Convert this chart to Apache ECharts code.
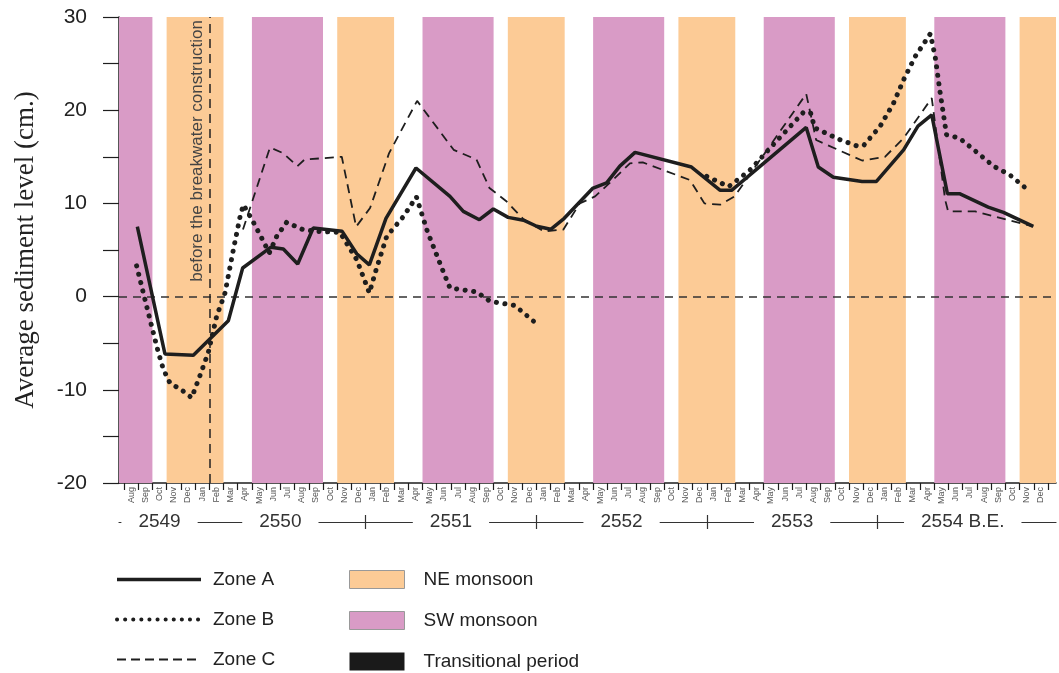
<!DOCTYPE html>
<html><head><meta charset="utf-8">
<script src="https://cdn.jsdelivr.net/npm/echarts@6/dist/echarts.min.js"></script>
<style>html,body{margin:0;padding:0;background:#fff}#c{width:1059px;height:673px}</style>
</head><body><div id="c"></div>
<script>
// Month categories (Aug 2549 .. Dec 2554)
const months = ['Aug','Sep','Oct','Nov','Dec',
  'Jan','Feb','Mar','Apr','May','Jun','Jul','Aug','Sep','Oct','Nov','Dec',
  'Jan','Feb','Mar','Apr','May','Jun','Jul','Aug','Sep','Oct','Nov','Dec',
  'Jan','Feb','Mar','Apr','May','Jun','Jul','Aug','Sep','Oct','Nov','Dec',
  'Jan','Feb','Mar','Apr','May','Jun','Jul','Aug','Sep','Oct','Nov','Dec',
  'Jan','Feb','Mar','Apr','May','Jun','Jul','Aug','Sep','Oct','Nov','Dec'];
const yearLabels = ['2549','2550','2551','2552','2553','2554 B.E.'];
const neMonths = ['Nov','Dec','Jan','Feb'];
const swMonths = ['May','Jun','Jul','Aug','Sep'];
const breakwaterMonth = 6; // start of Feb 2550 (month index)
const breakwaterText = 'before the breakwater construction';

// Survey positions in months since start of Aug 2549, and levels (cm)
const zoneAx = [0.94,2.88,4.88,7.34,8.35,10.34,11.21,12.22,13.31,15.35,16.37,17.26,18.43,20.54,22.93,23.87,25.0,25.98,27.02,28.1,29.03,30.02,30.97,32.96,33.95,34.88,35.95,39.92,41.94,42.74,47.99,48.84,49.9,51.92,52.93,54.84,55.85,56.82,57.92,58.77,60.79,61.86,63.96];
const zoneAy = [7.5,-6.15,-6.3,-2.6,3.07,5.3,5.1,3.5,7.36,7.0,4.6,3.4,8.4,13.8,10.75,9.14,8.25,9.4,8.5,8.2,7.55,7.22,8.4,11.6,12.2,14.0,15.47,13.9,11.4,11.4,18.15,13.9,12.8,12.36,12.36,15.75,18.3,19.5,11.04,11.04,9.6,9.04,7.54];

const zoneBx = [0.89,1.36,1.95,2.42,2.77,3.23,4.17,4.76,5.34,5.93,6.52,7.11,7.69,8.17,8.4,9.07,9.68,10.22,10.74,11.44,12.6,13.56,15.19,16.37,17.26,17.74,18.48,19.66,20.57,21.34,22.48,22.93,24.8,25.75,27.5,28.93,
  34.0,
  40.99,42.54,44.05,45.67,47.78,48.29,48.59,50.41,51.51,52.02,53.18,54.13,54.84,55.65,56.72,57.06,57.4,57.86,58.77,59.78,61.19,62.3,63.71];
const zoneBy = [3.3,0.4,-3.2,-6.0,-7.8,-9.25,-10.15,-10.86,-8.5,-6.0,-2.1,0.4,5.0,8.6,9.86,8.07,6.3,4.68,6.46,7.97,7.18,7.0,6.9,3.97,0.4,2.9,6.46,8.6,10.7,7.0,2.6,0.93,0.5,-0.5,-0.96,-2.8,
  null,
  12.9,11.8,13.6,16.3,19.75,19.75,18.1,16.8,16.2,16.2,18.25,20.75,23.26,25.75,28.2,25.75,22.0,17.36,17.0,15.75,13.97,13.07,11.29];

const zoneCx = [8.37,10.27,11.19,12.2,12.7,15.32,16.33,17.31,18.65,20.62,23.19,24.8,25.71,26.92,28.1,29.54,30.91,32.06,33.14,34.17,35.59,36.49,39.82,40.83,41.94,42.95,47.99,48.69,51.92,53.53,54.84,56.82,57.76,57.97,59.88,62.1,63.96];
const zoneCy = [7.2,16.0,15.4,14.0,14.7,15.0,7.5,9.5,15.4,21.0,15.75,14.7,11.65,10.2,8.3,7.0,7.2,10.0,10.75,12.2,14.3,14.4,12.5,10.0,9.86,10.75,21.75,16.8,14.6,15.0,17.0,21.3,10.4,9.14,9.14,8.25,7.54];

const X_MIN = -0.35, X_MAX = 65.56;
const zip = (xs, ys) => xs.map((x, i) => [x, ys[i]]);

function season(m) { return neMonths.includes(m) ? 'NE' : (swMonths.includes(m) ? 'SW' : 'T'); }
const bands = { NE: [], SW: [] };
for (let i = 0; i < months.length;) {
  const s = season(months[i]); let j = i;
  while (j < months.length && season(months[j]) === s) j++;
  if (s !== 'T') bands[s].push([{ xAxis: i === 0 ? X_MIN : i }, { xAxis: j === months.length ? X_MAX : j }]);
  i = j;
}
const monthBounds = months.map((m, i) => i).concat([months.length]);
const monthCenters = months.map((m, i) => i + 0.5);
const yearBounds = months.map((m, i) => (m === 'Jan' ? i : -1)).filter(i => i >= 0);
const yearEdges = [0].concat(yearBounds, [months.length]);
const yearCenters = yearLabels.map((l, k) => (yearEdges[k] + yearEdges[k + 1]) / 2);

const ink = '#1e1e1e';
const FONT = 'Liberation Sans';
const lineA = { color: ink, width: 3.5 };
const lineB = { color: ink, width: 5, type: [0.1, 8.5], cap: 'round' };
const lineC = { color: ink, width: 1.8, type: [9, 6] };
const chart = echarts.init(document.getElementById('c'));
chart.setOption({
  animation: false,
  backgroundColor: '#fff',
  grid: { left: 119, right: 3, top: 17, bottom: 190, containLabel: false, outerBoundsMode: 'none' },
  xAxis: [
    { type: 'value', position: 'bottom', min: X_MIN, max: X_MAX, splitLine: { show: false },
      axisLine: { onZero: false, lineStyle: { color: ink, width: 1.5 } },
      axisTick: { customValues: monthBounds, length: 7, lineStyle: { color: ink, width: 1.2 } },
      axisLabel: { customValues: monthCenters, rotate: 90, fontSize: 9, color: '#555', margin: 4, fontFamily: FONT,
        formatter: v => months[Math.floor(v)] } },
    { type: 'value', position: 'bottom', min: X_MIN, max: X_MAX, offset: 39, splitLine: { show: false },
      axisLine: { onZero: false, lineStyle: { color: '#333', width: 1.2 } },
      axisTick: { customValues: yearBounds, length: 7, lineStyle: { color: '#333', width: 1.2 } },
      axisLabel: { customValues: yearCenters, fontSize: 19, color: '#333', fontFamily: FONT, margin: 0,
        verticalAlign: 'middle', backgroundColor: '#fff', padding: [2, 17],
        formatter: v => { let k = 0, d = 1e9; yearCenters.forEach((c, i) => { if (Math.abs(c - v) < d) { d = Math.abs(c - v); k = i; } }); return yearLabels[k]; } } },
    { type: 'value', position: 'bottom', min: X_MIN, max: X_MAX, offset: 39, splitLine: { show: false },
      axisLine: { show: false, onZero: false },
      axisTick: { inside: true, customValues: yearBounds, length: 7, lineStyle: { color: '#333', width: 1.2 } },
      axisLabel: { show: false } }
  ],
  yAxis: { type: 'value', min: -20, max: 30, interval: 10,
    name: 'Average sediment level (cm.)', nameLocation: 'middle', nameGap: 80,
    nameTextStyle: { fontFamily: 'Liberation Serif', fontSize: 27, color: '#222' },
    axisLine: { show: true, onZero: false, lineStyle: { color: ink, width: 1.5 } },
    axisTick: { show: true, length: 16, lineStyle: { color: ink, width: 1.2 } },
    minorTick: { show: true, splitNumber: 2, length: 16, lineStyle: { color: ink, width: 1.2 } },
    splitLine: { show: false },
    axisLabel: { fontSize: 21, color: '#222', margin: 32, fontFamily: FONT } },
  legend: [
    { data: [
        { name: 'Zone A', lineStyle: lineA },
        { name: 'Zone B', lineStyle: { color: ink, width: 4, type: [0.1, 8], cap: 'round' } },
        { name: 'Zone C', lineStyle: { color: ink, width: 1.8, type: [9, 5] } } ],
      orient: 'vertical', left: 115, top: 570, padding: 0,
      itemWidth: 84, itemHeight: 19, itemGap: 21, itemStyle: { opacity: 0 },
      textStyle: { fontSize: 19, color: '#222', fontFamily: FONT, padding: [0, 0, 0, 7] } },
    { data: [
        { name: 'NE monsoon', icon: 'rect', itemStyle: { borderColor: '#999', borderWidth: 1 } },
        { name: 'SW monsoon', icon: 'rect', itemStyle: { borderColor: '#999', borderWidth: 1 } },
        { name: 'Transitional period', icon: 'rect' } ],
      orient: 'vertical', left: 349, top: 570, padding: 0,
      itemWidth: 55, itemHeight: 18, itemGap: 22,
      textStyle: { fontSize: 19, color: '#222', fontFamily: FONT, padding: [0, 0, 0, 14] } }
  ],
  series: [
    { name: 'NE monsoon', type: 'line', data: [], color: '#FCCB96', z: 1,
      markArea: { silent: true, itemStyle: { color: '#FCCB96' }, data: bands.NE } },
    { name: 'SW monsoon', type: 'line', data: [], color: '#D99BC6', z: 1,
      markArea: { silent: true, itemStyle: { color: '#D99BC6' }, data: bands.SW } },
    { name: 'Transitional period', type: 'line', data: [], color: '#1a1a1a', z: 1 },
    { name: 'refs', type: 'line', data: [], z: 2,
      markLine: { silent: true, symbol: 'none', animation: false,
        data: [
          { yAxis: 0, lineStyle: { color: '#333', width: 1.5, type: [8, 6] }, label: { show: false } },
          { xAxis: breakwaterMonth, lineStyle: { color: '#222', width: 1.5, type: [9, 6] },
            label: { show: true, formatter: breakwaterText, position: 'insideEndTop', fontSize: 17,
              color: '#444', fontFamily: FONT, distance: 3 } }
        ] } },
    { name: 'Zone A', type: 'line', data: zip(zoneAx, zoneAy), symbol: 'none', color: ink, z: 5, lineStyle: lineA },
    { name: 'Zone B', type: 'line', data: zip(zoneBx, zoneBy), symbol: 'none', color: ink, z: 4, lineStyle: lineB },
    { name: 'Zone C', type: 'line', data: zip(zoneCx, zoneCy), symbol: 'none', color: ink, z: 4, lineStyle: lineC }
  ]
});
</script></body></html>
